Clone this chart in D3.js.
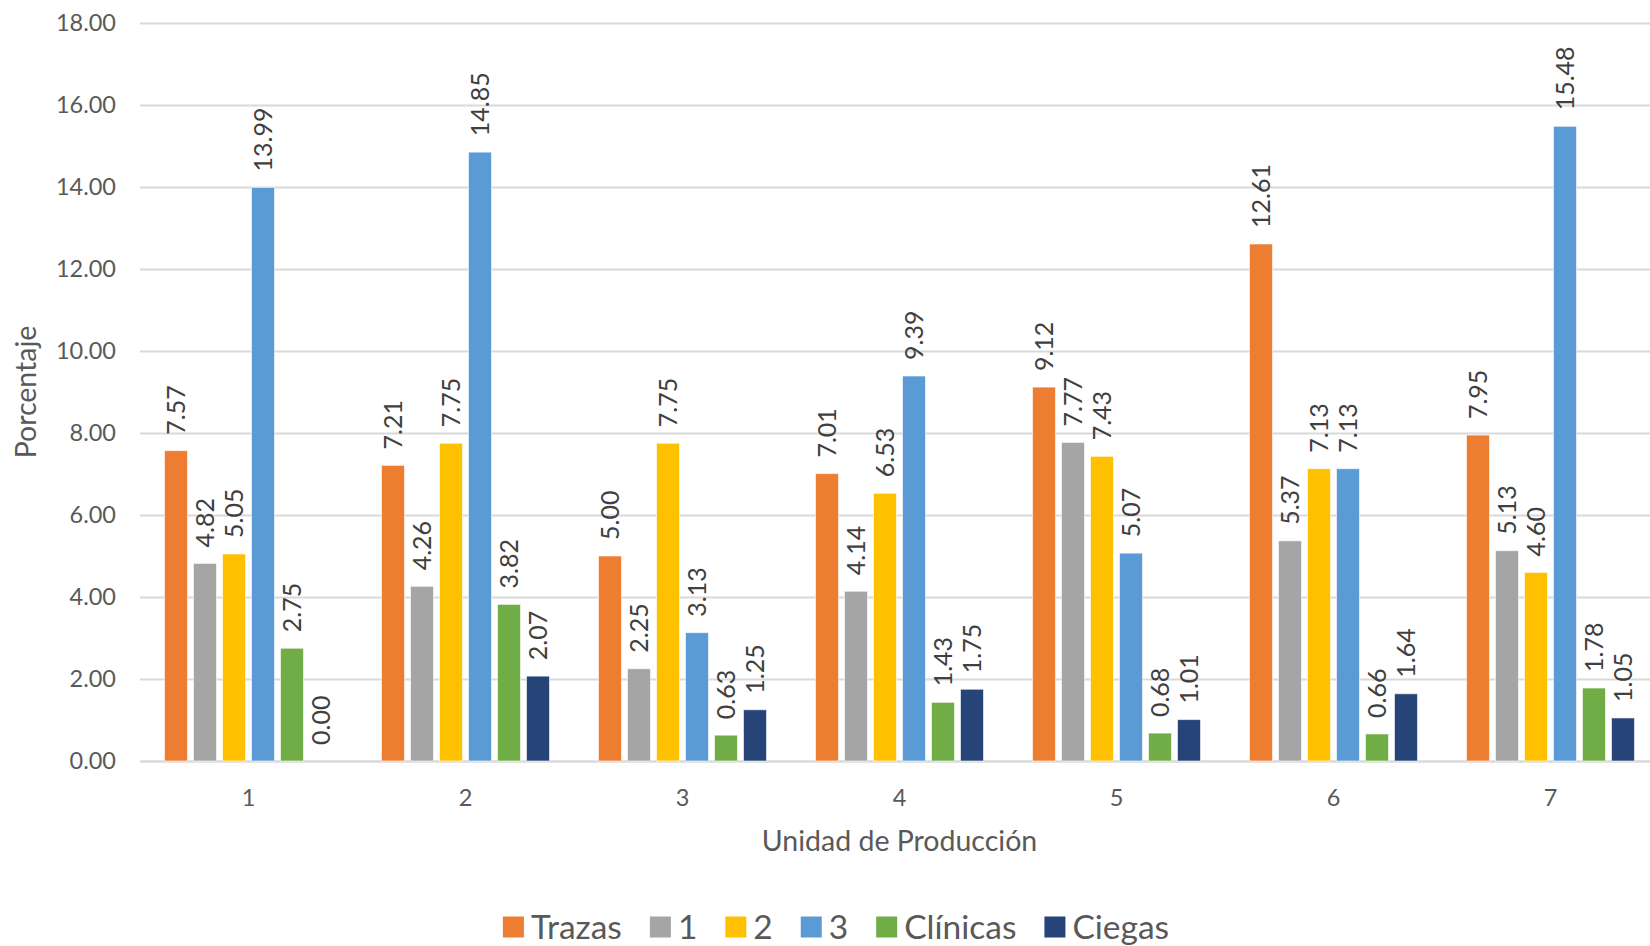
<!DOCTYPE html>
<html>
<head>
<meta charset="utf-8">
<script src="https://cdn.jsdelivr.net/npm/d3@7"></script>
<style>
  html, body { margin: 0; padding: 0; background: #fff; }
  svg { display: block; font-family: Lato, "Open Sans", sans-serif; }
</style>
</head>
<body>
<svg id="chart" width="1650" height="946"></svg>
<script>
// Unidades de producción (eje X)
const categories = ["1", "2", "3", "4", "5", "6", "7"];

// Series (porcentaje por unidad)
const seriesNames = ["Trazas", "1", "2", "3", "Clínicas", "Ciegas"];
const trazas   = [7.57, 7.21, 5.00, 7.01, 9.12, 12.61, 7.95];
const grado1   = [4.82, 4.26, 2.25, 4.14, 7.77, 5.37, 5.13];
const grado2   = [5.05, 7.75, 7.75, 6.53, 7.43, 7.13, 4.60];
const grado3   = [13.99, 14.85, 3.13, 9.39, 5.07, 7.13, 15.48];
const clinicas = [2.75, 3.82, 0.63, 1.43, 0.68, 0.66, 1.78];
const ciegas   = [0.00, 2.07, 1.25, 1.75, 1.01, 1.64, 1.05];

// Marcas del eje Y
const yTicks = [0, 2, 4, 6, 8, 10, 12, 14, 16, 18];

const seriesValues = [trazas, grado1, grado2, grado3, clinicas, ciegas];
const colors = ["#ED7D31", "#A5A5A5", "#FFC000", "#5B9BD5", "#70AD47", "#264478"];

const svg = d3.select("#chart");

const plot = { left: 140, right: 1659, top: 23, bottom: 761 };

const x0 = d3.scaleBand()
  .domain(categories)
  .range([plot.left, plot.right])
  .padding(0);

const groupWidth = 168;
const x1 = d3.scaleBand()
  .domain(seriesNames)
  .range([0, groupWidth])
  .paddingInner(6 / 29)
  .paddingOuter(0);

const y = d3.scaleLinear()
  .domain([0, 18])
  .range([plot.bottom, plot.top]);

const fmt = d3.format(".2f");

// Líneas de cuadrícula y etiquetas del eje Y
const yAxis = d3.axisLeft(y)
  .tickValues(yTicks)
  .tickSize(-(plot.right - plot.left))
  .tickPadding(24)
  .tickFormat(fmt);

const gy = svg.append("g")
  .attr("transform", `translate(${plot.left},0)`)
  .call(yAxis);
gy.select(".domain").remove();
gy.selectAll(".tick line").attr("stroke", "#D9D9D9").attr("stroke-width", 2);
gy.selectAll(".tick text")
  .attr("fill", "#595959")
  .style("font-size", "23.5px")
  .style("font-family", "Lato, sans-serif");

// Eje X
const xAxis = d3.axisBottom(x0).tickSize(0).tickPadding(28);
const gx = svg.append("g")
  .attr("transform", `translate(0,${plot.bottom})`)
  .call(xAxis);
gx.select(".domain").attr("stroke", "#D9D9D9").attr("stroke-width", 2);
gx.selectAll(".tick text")
  .attr("fill", "#595959")
  .style("font-size", "23.5px")
  .style("font-family", "Lato, sans-serif");

// Datos en formato largo
const rows = [];
categories.forEach((c, i) => {
  seriesNames.forEach((s, j) => {
    rows.push({ cat: c, series: s, value: seriesValues[j][i], color: colors[j] });
  });
});

const offset = (x0.bandwidth() - groupWidth) / 2;

const bars = svg.append("g");
bars.selectAll("rect")
  .data(rows)
  .join("rect")
  .attr("x", d => x0(d.cat) + offset + x1(d.series))
  .attr("y", d => y(d.value))
  .attr("width", x1.bandwidth())
  .attr("height", d => y(0) - y(d.value))
  .attr("fill", d => d.color)
  .attr("stroke", "rgba(255,255,255,0.6)")
  .attr("stroke-width", 1);

// Etiquetas de valor (verticales)
const labels = svg.append("g");
labels.selectAll("text")
  .data(rows)
  .join("text")
  .attr("transform", d => {
    const cx = x0(d.cat) + offset + x1(d.series) + x1.bandwidth() / 2;
    const cy = y(d.value) - 16;
    return `translate(${cx},${cy}) rotate(-90)`;
  })
  .attr("dy", "0.36em")
  .attr("text-anchor", "start")
  .attr("fill", "#404040")
  .style("font-size", "25px")
  .text(d => fmt(d.value));

// Títulos de ejes
svg.append("text")
  .attr("transform", `translate(26,${(plot.top + plot.bottom) / 2}) rotate(-90)`)
  .attr("text-anchor", "middle")
  .attr("dy", "0.36em")
  .attr("fill", "#595959")
  .style("font-size", "28.5px")
  .text("Porcentaje");

svg.append("text")
  .attr("x", (plot.left + plot.right) / 2)
  .attr("y", 841)
  .attr("text-anchor", "middle")
  .attr("dy", "0.36em")
  .attr("fill", "#595959")
  .style("font-size", "28.5px")
  .text("Unidad de Producción");

// Leyenda
const legendY = 927;
const legend = svg.append("g");
const items = legend.selectAll("g")
  .data(seriesNames)
  .join("g");
items.append("rect")
  .attr("width", 21)
  .attr("height", 21)
  .attr("y", legendY - 10.5)
  .attr("fill", (d, i) => colors[i]);
items.append("text")
  .attr("x", 28)
  .attr("y", legendY)
  .attr("dy", "0.36em")
  .attr("fill", "#595959")
  .style("font-size", "33.5px")
  .text(d => d);

let cursor = 0;
const gap = 28;
items.each(function () {
  const g = d3.select(this);
  g.attr("transform", `translate(${cursor},0)`);
  const w = g.select("text").node().getComputedTextLength();
  cursor += 28 + w + gap;
});
const legendWidth = cursor - gap;
legend.attr("transform", `translate(${836 - legendWidth / 2},0)`);
</script>
</body>
</html>
